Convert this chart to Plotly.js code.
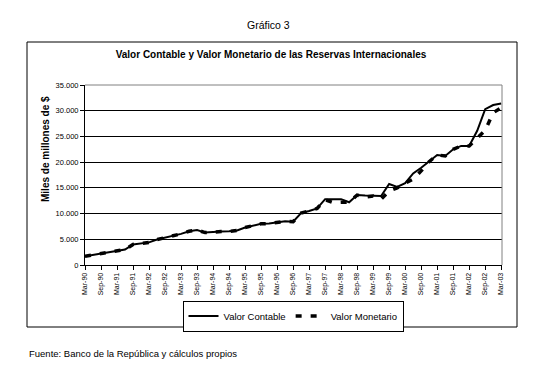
<!DOCTYPE html>
<html>
<head>
<meta charset="utf-8">
<script src="https://cdn.plot.ly/plotly-3.0.1.min.js"></script>
<style>html,body{margin:0;padding:0;background:#fff;}#chart{width:539px;height:367px;}</style>
</head>
<body>
<div id="chart"></div>
<script>
const quarters = ['Mar-90','Jun-90','Sep-90','Dec-90','Mar-91','Jun-91','Sep-91','Dec-91',
  'Mar-92','Jun-92','Sep-92','Dec-92','Mar-93','Jun-93','Sep-93','Dec-93',
  'Mar-94','Jun-94','Sep-94','Dec-94','Mar-95','Jun-95','Sep-95','Dec-95',
  'Mar-96','Jun-96','Sep-96','Dec-96','Mar-97','Jun-97','Sep-97','Dec-97',
  'Mar-98','Jun-98','Sep-98','Dec-98','Mar-99','Jun-99','Sep-99','Dec-99',
  'Mar-00','Jun-00','Sep-00','Dec-00','Mar-01','Jun-01','Sep-01','Dec-01',
  'Mar-02','Jun-02','Sep-02','Dec-02','Mar-03'];
const tickLabels = ['Mar-90','Sep-90','Mar-91','Sep-91','Mar-92','Sep-92','Mar-93','Sep-93',
  'Mar-94','Sep-94','Mar-95','Sep-95','Mar-96','Sep-96','Mar-97','Sep-97','Mar-98','Sep-98',
  'Mar-99','Sep-99','Mar-00','Sep-00','Mar-01','Sep-01','Mar-02','Sep-02','Mar-03'];
const valorContable = [1700,1950,2250,2500,2750,3000,4000,4150,4400,4950,5300,5650,6050,6550,6800,6300,
  6450,6500,6550,6700,7300,7700,8000,8050,8250,8500,8400,10100,10500,11000,12800,12800,
  12800,12200,13600,13500,13450,13400,15750,15200,15900,17800,18900,20100,21400,21200,22500,23150,
  23150,26100,30300,31100,31400];
const valorMonetario = [1700,1950,2250,2500,2750,3000,4000,4150,4400,4950,5300,5650,6050,6550,6800,6300,
  6450,6500,6550,6700,7300,7700,8000,8050,8250,8500,8400,10100,10500,11000,12700,12150,
  12200,12200,13600,13200,13400,12800,14400,15000,15900,16700,18300,20100,21400,21200,22500,23150,
  23150,24700,26200,29600,30600];
const yTicks = [0,5000,10000,15000,20000,25000,30000,35000];

const FONT = 'Liberation Sans, Arial, sans-serif';
const L = 85, R = 502, T = 85, B = 265;
const px = x => (x - L) / (R - L);
const py = y => (B - y) / (B - T);

const traces = [
  {x: quarters, y: valorContable, name: 'Valor Contable', type: 'scatter', mode: 'lines',
   line: {color: '#000', width: 2}},
  {x: quarters, y: valorMonetario, name: 'Valor Monetario', type: 'scatter', mode: 'lines',
   line: {color: '#000', width: 3.5, dash: '6px,9px'}}
];

const layout = {
  width: 539, height: 367,
  margin: {l: L, r: 539 - R, t: T, b: 367 - B, pad: 0},
  paper_bgcolor: '#fff', plot_bgcolor: '#fff',
  separators: ',.',
  font: {family: FONT, color: '#000', size: 9},
  showlegend: true,
  title: {text: '<b>Valor Contable y Valor Monetario de las Reservas Internacionales</b>',
          x: 271/539, xanchor: 'center', y: 1 - 54/367, yanchor: 'middle',
          font: {family: FONT, size: 10, color: '#000'}},
  xaxis: {type: 'category', range: [0, 52.1], tickmode: 'array', tickvals: tickLabels, ticktext: tickLabels,
          tickangle: -90, ticks: 'outside', ticklen: 4, tickcolor: '#000', tickwidth: 1,
          showline: true, linecolor: '#000', linewidth: 1, showgrid: false, zeroline: false,
          tickfont: {family: FONT, size: 7, color: '#000'}, fixedrange: true},
  yaxis: {range: [0, 35000], tickmode: 'array', tickvals: yTicks, tickformat: ',d',
          ticks: 'outside', ticklen: 4, tickcolor: '#000', tickwidth: 1,
          showline: true, linecolor: '#000', linewidth: 1, showgrid: true, gridcolor: '#000', gridwidth: 1,
          zeroline: false, tickfont: {family: FONT, size: 7.5, color: '#000'}, fixedrange: true},
  legend: {orientation: 'h', x: px(293), xanchor: 'center', y: py(316), yanchor: 'middle',
           bordercolor: '#000', borderwidth: 1, bgcolor: '#fff',
           font: {family: FONT, size: 9.5, color: '#000'}, itemwidth: 30, tracegroupgap: 0},
  shapes: [
    {type: 'rect', xref: 'paper', yref: 'paper', x0: px(27), x1: px(517), y0: py(327), y1: py(42),
     line: {color: '#000', width: 1}, layer: 'below'},
    {type: 'line', xref: 'paper', yref: 'paper', x0: 0, x1: 1, y0: 1, y1: 1,
     line: {color: '#808080', width: 1}, layer: 'above'},
    {type: 'line', xref: 'paper', yref: 'paper', x0: 1, x1: 1, y0: 0, y1: 1,
     line: {color: '#808080', width: 1}, layer: 'above'}
  ],
  annotations: [
    {text: 'Gráfico 3', xref: 'paper', yref: 'paper', x: px(268), y: py(25), xanchor: 'center', yanchor: 'middle',
     showarrow: false, font: {family: FONT, size: 10.5, color: '#000'}},
    {text: '<b>Miles de millones de $</b>', xref: 'paper', yref: 'paper', x: px(45), y: py(149),
     xanchor: 'center', yanchor: 'middle', textangle: -90, showarrow: false,
     font: {family: FONT, size: 10, color: '#000'}},
    {text: 'Fuente: Banco de la República y cálculos propios', xref: 'paper', yref: 'paper',
     x: px(27), y: py(353), xanchor: 'left', yanchor: 'middle', showarrow: false,
     font: {family: FONT, size: 9.5, color: '#000'}}
  ]
};

Plotly.newPlot('chart', traces, layout, {staticPlot: true, displayModeBar: false});
</script>
</body>
</html>
